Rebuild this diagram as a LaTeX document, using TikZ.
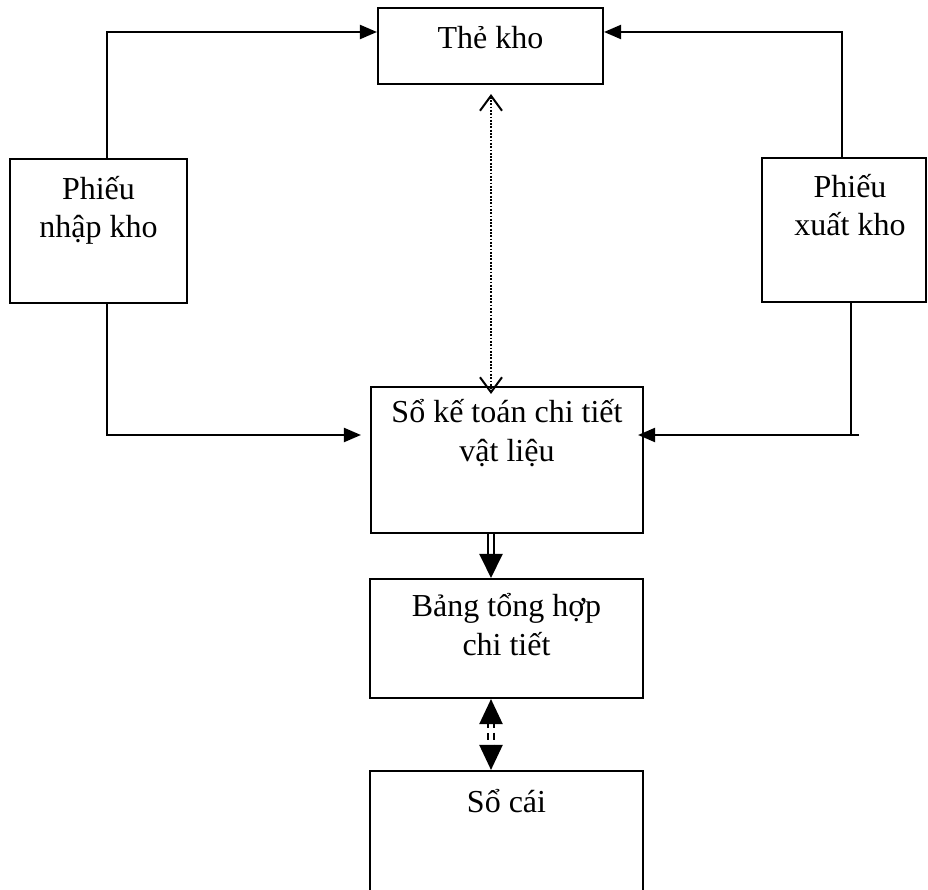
\documentclass[tikz,border=0pt]{standalone}
\usepackage{fontspec}
\setmainfont{Liberation Serif}
\usetikzlibrary{arrows.meta}
\tikzset{
  box/.style={draw, line width=2.1pt, inner sep=0pt},
  lbl/.style={anchor=base, align=center, inner sep=0pt,
    font=\fontsize{32}{38.5}\selectfont},
  conn/.style={line width=2.1pt},
  tri/.style={-{Triangle[length=17pt,width=14pt]}},
  dotconn/.style={line width=2pt, dash pattern=on 1.8pt off 1.5pt,
    {Straight Barb[length=15pt,width=22pt,line width=2pt]}-{Straight Barb[length=15pt,width=22pt,line width=2pt]}},
  dblconn/.style={line width=2.3pt, double, double distance=3.4pt,
    -{Triangle[length=24pt,width=23pt]}},
  dshconn/.style={line width=2.2pt, double, double distance=3.4pt,
    dash pattern=on 7pt off 5pt, dash phase=3pt,
    {Triangle[length=25pt,width=23pt]}-{Triangle[length=25pt,width=23pt]}},
}
\begin{document}
\begin{tikzpicture}[x=1pt,y=-1pt]
  \clip (0,0) rectangle (928,890);

  % boxes
  \node[box, minimum width=225pt, minimum height=76pt]  (the)   at (490.5,46)  {};
  \node[box, minimum width=177pt, minimum height=144pt] (nhap)  at (98.5,231)  {};
  \node[box, minimum width=164pt, minimum height=144pt] (xuat)  at (844,230)   {};
  \node[box, minimum width=272pt, minimum height=146pt] (sokt)  at (507,460)   {};
  \node[box, minimum width=273pt, minimum height=119pt] (bang)  at (506.5,638.5) {};
  \node[box, minimum width=273pt, minimum height=130pt] (socai) at (506.5,836) {};

  % texts (base anchor sits on the last line)
  \node[lbl] (theT)   at (490.5,49) {Thẻ kho};
  \node[lbl] (nhapT)  at (98.5,238) {Phiếu\\nhập kho};
  \node[lbl] (xuatT)  at (850,236)  {Phiếu\\xuất kho};
  \node[lbl] (soktT)  at (507,461)  {Sổ kế toán chi tiết\\vật liệu};
  \node[lbl] (bangT)  at (506.5,655) {Bảng tổng hợp\\chi tiết};
  \node[lbl] (socaiT) at (506.5,812) {Sổ cái};

  % receipts and issues to the stock card
  \draw[conn,tri] (nhap.north -| 107,0) |- (the.west |- 0,32);
  \draw[conn,tri] (xuat.north -| 842,0) |- (the.east |- 0,32);

  % receipts and issues to the detailed ledger
  \draw[conn,tri,shorten >=9pt] (nhap.south -| 107,0) |- (sokt.west |- 0,435);
  \coordinate (xend) at (859,435);
  \draw[conn] (xuat.south -| 851,0) |- (xend);
  \draw[conn,tri,shorten >=-6pt] (xend) -- (sokt.east |- xend);

  % reconciliation between stock card and detailed ledger
  \draw[dotconn,shorten <=9pt,shorten >=-8pt] (the.south -| 491,0) -- (sokt.north -| 491,0);

  % detailed ledger to summary
  \draw[dblconn] (sokt.south -| 491,0) -- (bang.north -| 491,0);

  % summary against general ledger
  \draw[dshconn] (bang.south -| 491,0) -- (socai.north -| 491,0);
\end{tikzpicture}
\end{document}
